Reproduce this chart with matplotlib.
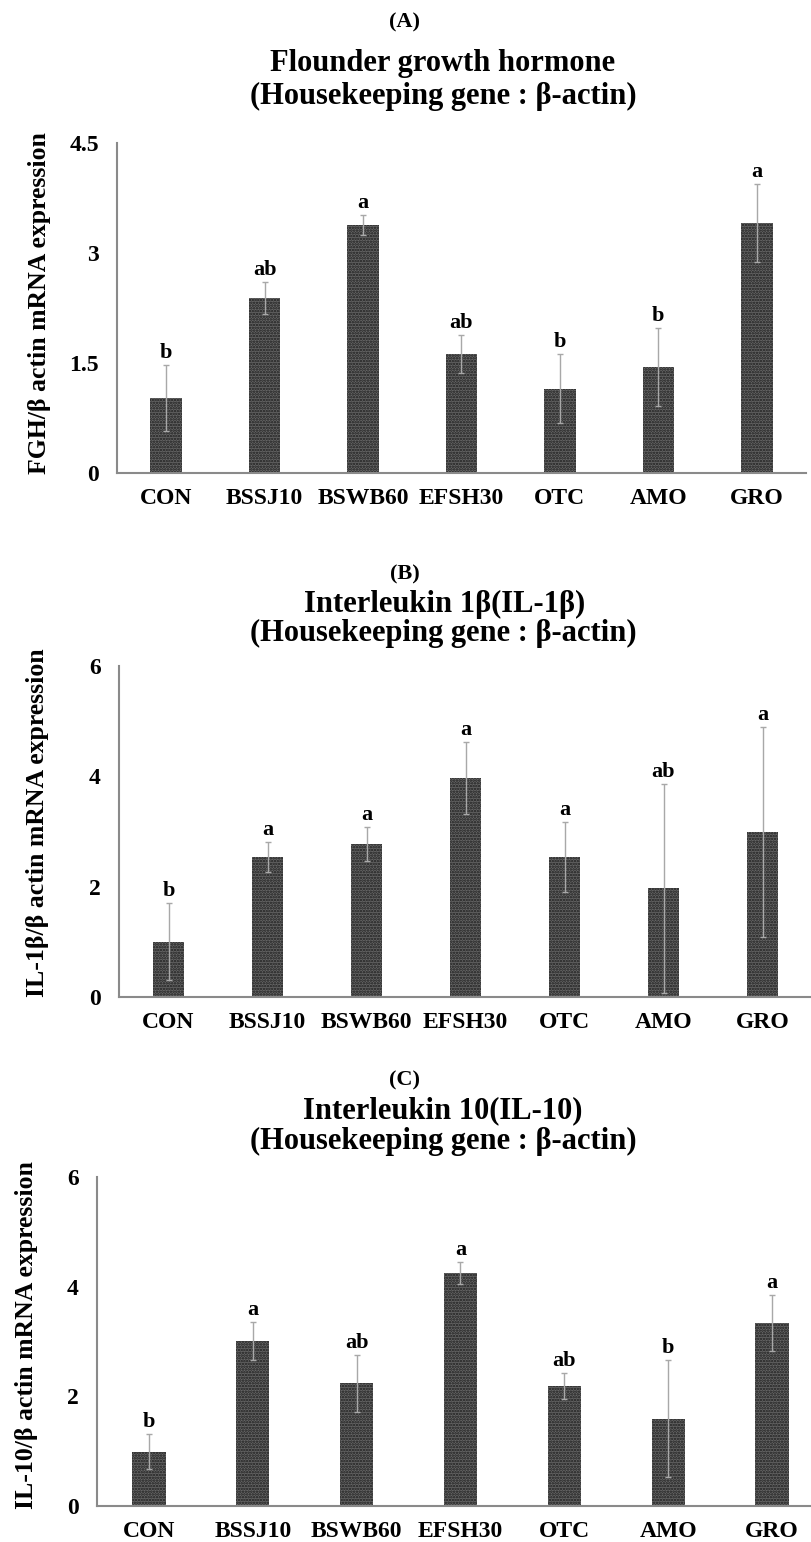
import matplotlib.pyplot as plt
import numpy as np

plt.rcParams['font.family'] = ['Liberation Serif', 'DejaVu Serif']
plt.rcParams['font.weight'] = 'bold'
plt.rcParams['hatch.linewidth'] = 1.2

groups = ['CON', 'BSSJ10', 'BSWB60', 'EFSH30', 'OTC', 'AMO', 'GRO']

# (A) flounder growth hormone
fgh_mean = [1.02, 2.39, 3.38, 1.62, 1.15, 1.45, 3.41]
fgh_sd = [0.45, 0.22, 0.14, 0.26, 0.47, 0.53, 0.53]
fgh_sig = ['b', 'ab', 'a', 'ab', 'b', 'b', 'a']

# (B) IL-1beta
il1_mean = [1.00, 2.54, 2.77, 3.97, 2.54, 1.97, 2.99]
il1_sd = [0.70, 0.27, 0.31, 0.66, 0.63, 1.90, 1.90]
il1_sig = ['b', 'a', 'a', 'a', 'a', 'ab', 'a']

# (C) IL-10
il10_mean = [0.99, 3.01, 2.24, 4.25, 2.19, 1.59, 3.34]
il10_sd = [0.32, 0.35, 0.52, 0.20, 0.24, 1.07, 0.51]
il10_sig = ['b', 'a', 'ab', 'a', 'ab', 'b', 'a']

W, H = 811, 1542
fig = plt.figure(figsize=(W / 100, H / 100), dpi=100)


def px_axes(left, right, top, bottom):
    return fig.add_axes([left / W, 1 - bottom / H, (right - left) / W, (bottom - top) / H])


def ftext(x, y, s, **kw):
    fig.text(x / W, 1 - y / H, s, ha='center', va='center', **kw)


def panel(ax, mean, sd, sig, ymax, yticks, yticklabels, xmax=6.5):
    x = np.arange(len(groups))
    ax.bar(x, mean, width=0.32, color='#666666', edgecolor='#1c1c1c',
           hatch='......', linewidth=0)
    ax.errorbar(x, mean, yerr=sd, fmt='none', ecolor='#a8a8a8',
                elinewidth=1, capsize=2.5, capthick=1)
    for xi, m, s, lab in zip(x, mean, sd, sig):
        ax.annotate(lab, (xi, m + s), xytext=(0, 5), textcoords='offset points',
                    ha='center', va='baseline', fontsize=16, fontweight='bold')
    ax.set_xlim(-0.5, xmax)
    ax.set_ylim(0, ymax)
    ax.set_xticks(x)
    ax.set_xticklabels(groups, fontsize=17, fontweight='bold')
    ax.set_yticks(yticks)
    ax.set_yticklabels(yticklabels, fontsize=17, fontweight='bold')
    ax.tick_params(length=0)
    ax.tick_params(axis='y', pad=13)
    ax.tick_params(axis='x', pad=11)
    for side in ['top', 'right']:
        ax.spines[side].set_visible(False)
    for side in ['left', 'bottom']:
        ax.spines[side].set_color('#8a8a8a')
        ax.spines[side].set_linewidth(1.5)


axA = px_axes(117, 806, 143, 473)
panel(axA, fgh_mean, fgh_sd, fgh_sig, 4.5, [0, 1.5, 3, 4.5], ['0', '1.5', '3', '4.5'])
axB = px_axes(119, 812, 666, 997)
panel(axB, il1_mean, il1_sd, il1_sig, 6, [0, 2, 4, 6], ['0', '2', '4', '6'])
axC = px_axes(97, 811, 1177, 1506)
panel(axC, il10_mean, il10_sd, il10_sig, 6, [0, 2, 4, 6], ['0', '2', '4', '6'], xmax=6.375)

# panel letters and titles
ftext(405, 22, '(A)', fontsize=16)
ftext(443, 63, 'Flounder growth hormone', fontsize=22)
ftext(443, 96, '(Housekeeping gene : β-actin)', fontsize=22)
ftext(405, 574, '(B)', fontsize=16)
ftext(445, 604, 'Interleukin 1β(IL-1β)', fontsize=22)
ftext(443, 633, '(Housekeeping gene : β-actin)', fontsize=22)
ftext(405, 1080, '(C)', fontsize=16)
ftext(443, 1111, 'Interleukin 10(IL-10)', fontsize=22)
ftext(443, 1141, '(Housekeeping gene : β-actin)', fontsize=22)

# y-axis labels
ftext(40, 303, 'FGH/β actin mRNA expression', fontsize=18.5, rotation=90)
ftext(38, 823, 'IL-1β/β actin mRNA expression', fontsize=18.5, rotation=90)
ftext(27, 1335, 'IL-10/β actin mRNA expression', fontsize=18.5, rotation=90)

fig.savefig('out.png', dpi=100)
